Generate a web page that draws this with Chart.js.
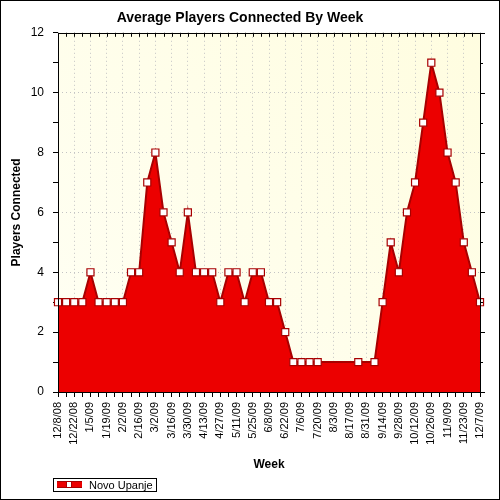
<!DOCTYPE html>
<html>
<head>
<meta charset="utf-8">
<script src="https://cdn.jsdelivr.net/npm/chart.js@4/dist/chart.umd.min.js"></script>
<style>
  body { margin: 0; background: #fff; }
  canvas { display: block; }
</style>
</head>
<body>
<canvas id="myChart" width="500" height="500"></canvas>
<script>
const weeks = [
  "12/8/08", "12/15/08", "12/22/08", "12/29/08", "1/5/09", "1/12/09", "1/19/09", "1/26/09",
  "2/2/09", "2/9/09", "2/16/09", "2/23/09", "3/2/09", "3/9/09", "3/16/09", "3/23/09", "3/30/09",
  "4/6/09", "4/13/09", "4/20/09", "4/27/09", "5/4/09", "5/11/09", "5/18/09", "5/25/09",
  "6/1/09", "6/8/09", "6/15/09", "6/22/09", "6/29/09", "7/6/09", "7/13/09", "7/20/09", "7/27/09",
  "8/3/09", "8/10/09", "8/17/09", "8/24/09", "8/31/09", "9/7/09", "9/14/09", "9/21/09", "9/28/09",
  "10/5/09", "10/12/09", "10/19/09", "10/26/09", "11/2/09", "11/9/09", "11/16/09", "11/23/09",
  "11/30/09", "12/7/09",
];

// weeks with no marker in the picture are null (the area just carries on)
const players = [
  3, 3, 3, 3, 4, 3, 3, 3, 3, 4, 4, 7, 8, 6, 5, 4, 6, 4, 4, 4, 3, 4, 4, 3, 4, 4, 3, 3, 2, 1,
  1, 1, 1, null, null, null, null, 1, null, 1, 3, 5, 4, 6, 7, 9, 11, 10, 8, 7, 5, 4, 3,
];

const seriesName = "Novo Upanje";
const yTicks = [0, 2, 4, 6, 8, 10, 12];

const fillRed = "#ec0000";
const lineRed = "#a80000";
const font = "'Liberation Sans', Arial, sans-serif";

// plot background, frame, mirrored ticks, legend and outer border
const decor = {
  id: "decor",
  beforeDraw(chart) {
    const { ctx, chartArea: a } = chart;
    const g = ctx.createLinearGradient(a.left, a.bottom, a.right, a.top);
    g.addColorStop(0, "#fffff4");
    g.addColorStop(1, "#fffde0");
    ctx.save();
    ctx.fillStyle = g;
    ctx.fillRect(a.left, a.top, a.right - a.left, a.bottom - a.top);
    ctx.restore();
  },
  afterDraw(chart) {
    const { ctx, chartArea: a } = chart;
    const x = chart.scales.x;
    const y = chart.scales.y;
    ctx.save();
    ctx.strokeStyle = "#000";
    ctx.lineWidth = 1;
    ctx.beginPath();
    x.ticks.forEach((t, i) => {
      const px = Math.round(x.getPixelForTick(i)) + 0.5;
      ctx.moveTo(px, a.top);
      ctx.lineTo(px, a.top + 4);
    });
    y.ticks.forEach((t, i) => {
      const py = Math.round(y.getPixelForTick(i)) + 0.5;
      ctx.moveTo(a.right, py);
      ctx.lineTo(a.right + (t.value % 2 === 0 ? 5 : 3), py);
    });
    ctx.stroke();
    ctx.strokeRect(Math.round(a.left) + 0.5, Math.round(a.top) + 0.5,
      Math.round(a.right - a.left), Math.round(a.bottom - a.top));

    // legend
    const lx = 53, ly = 478;
    ctx.strokeRect(lx + 0.5, ly + 0.5, 103, 13);
    ctx.fillStyle = fillRed;
    ctx.fillRect(lx + 4, ly + 3, 25, 7);
    ctx.fillStyle = lineRed;
    ctx.fillRect(lx + 4, ly + 3, 25, 1);
    ctx.fillRect(lx + 4, ly + 9, 25, 1);
    ctx.fillStyle = "#fff";
    ctx.strokeStyle = lineRed;
    ctx.fillRect(lx + 13, ly + 3, 6, 7);
    ctx.strokeRect(lx + 13.5, ly + 3.5, 5, 6);
    ctx.fillStyle = "#000";
    ctx.font = "11px " + font;
    ctx.textBaseline = "middle";
    ctx.fillText(seriesName, lx + 36, ly + 7.5);

    ctx.strokeStyle = "#000";
    ctx.strokeRect(0.5, 0.5, 499, 499);
    ctx.restore();
  },
};

const ctx = document.getElementById("myChart").getContext("2d");
const myChart = new Chart(ctx, {
  type: "line",
  data: {
    labels: weeks,
    datasets: [
      {
        label: seriesName,
        data: players,
        fill: "origin",
        backgroundColor: fillRed,
        borderColor: lineRed,
        borderWidth: 2,
        tension: 0,
        spanGaps: true,
        pointStyle: "rect",
        pointRadius: 5,
        pointBackgroundColor: "#fff",
        pointBorderColor: lineRed,
        pointBorderWidth: 1.2,
      },
    ],
  },
  options: {
    responsive: false,
    animation: false,
    layout: { padding: { left: 0, right: 20, top: 0, bottom: 28 } },
    plugins: {
      legend: { display: false },
      tooltip: { enabled: false },
      title: {
        display: true,
        text: "Average Players Connected By Week",
        color: "#000",
        font: { family: font, size: 14, weight: "bold" },
        padding: { top: 10, bottom: 6 },
      },
    },
    scales: {
      x: {
        offset: false,
        afterFit(scale) {
          scale.height = 80;
        },
        grid: {
          color: (c) => (c.index % 2 === 0 && c.index > 0 && c.index < weeks.length - 1 ? "#c4c4c4" : "rgba(0,0,0,0)"),
          tickColor: "#000",
          tickLength: 5,
        },
        border: { display: false, dash: [1, 3] },
        ticks: {
          autoSkip: false,
          maxRotation: 90,
          minRotation: 90,
          padding: 5,
          color: "#000",
          font: { family: font, size: 11 },
          callback: (v, i) => (i % 2 === 0 ? weeks[i] : ""),
        },
        title: {
          display: true,
          text: "Week",
          color: "#000",
          font: { family: font, size: 12, weight: "bold" },
          padding: { top: 0, bottom: 0 },
        },
      },
      y: {
        min: 0,
        max: 12,
        afterFit(scale) {
          scale.width = 58;
        },
        grid: {
          color: (c) => (c.tick && c.tick.value % 2 === 0 && c.tick.value > 0 && c.tick.value < 12 ? "#c4c4c4" : "rgba(0,0,0,0)"),
          tickColor: "#000",
          tickLength: 5,
        },
        border: { display: false, dash: [1, 3] },
        ticks: {
          stepSize: 0.5,
          padding: 9,
          color: "#000",
          font: { family: font, size: 12 },
          callback: (v) => (yTicks.includes(v) ? v : ""),
        },
        title: {
          display: true,
          text: "Players Connected",
          color: "#000",
          font: { family: font, size: 12, weight: "bold" },
          padding: { top: 9, bottom: 0 },
        },
      },
    },
  },
  plugins: [decor],
});
</script>
</body>
</html>
